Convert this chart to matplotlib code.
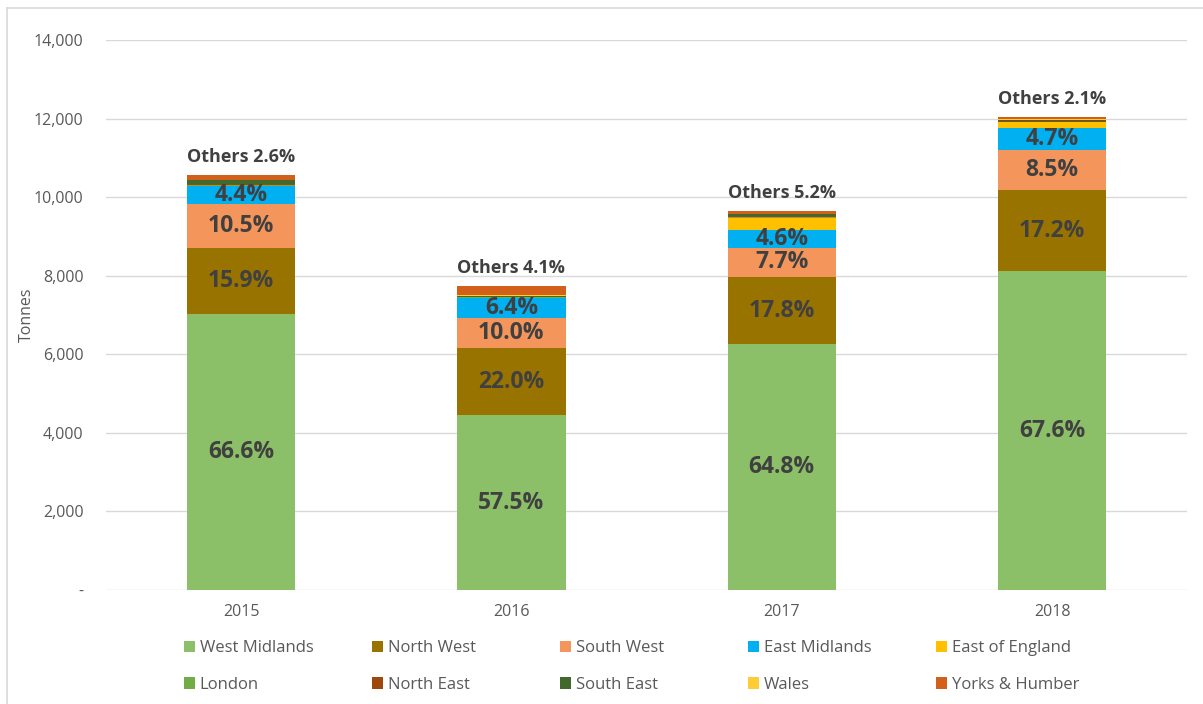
import matplotlib.pyplot as plt
import numpy as np
from matplotlib.lines import Line2D
from matplotlib.patches import Patch

years = ['2015', '2016', '2017', '2018']
totals = [10560, 7740, 9650, 12010]

regions = ['West Midlands', 'North West', 'South West', 'East Midlands', 'East of England',
           'London', 'North East', 'South East', 'Wales', 'Yorks & Humber']

# share of each year's total, in percent
west_midlands = [66.6, 57.5, 64.8, 67.6]
north_west = [15.9, 22.0, 17.8, 17.2]
south_west = [10.5, 10.0, 7.7, 8.5]
east_midlands = [4.4, 6.4, 4.6, 4.7]
east_of_england = [0.0, 0.3, 3.3, 1.2]
london = [0.2, 0.1, 0.1, 0.1]
north_east = [0.3, 0.2, 0.3, 0.2]
south_east = [0.9, 0.3, 0.6, 0.1]
wales = [0.0, 0.1, 0.1, 0.2]
yorks = [1.2, 3.1, 0.8, 0.5]

others_pct = ['2.6%', '4.1%', '5.2%', '2.1%']

colors = ['#8CC068', '#997300', '#F4965B', '#00B0F0', '#FFC000',
          '#70AD47', '#9E480E', '#43682B', '#FFCD33', '#D2601A']

shares = [west_midlands, north_west, south_west, east_midlands, east_of_england,
          london, north_east, south_east, wales, yorks]

plt.rcParams['font.family'] = ['Open Sans', 'DejaVu Sans']

fig = plt.figure(figsize=(12.03, 7.04), dpi=100)
ax = fig.add_axes([0.088, 0.162, 0.899, 0.781])

x = np.arange(len(years))
bottom = np.zeros(len(years))
for i, s in enumerate(shares):
    vals = np.array(s) / 100 * np.array(totals)
    ax.bar(x, vals, width=0.4, bottom=bottom, color=colors[i], label=regions[i])
    if i < 4:
        for j in range(len(years)):
            ax.text(x[j], bottom[j] + vals[j] / 2, '%.1f%%' % s[j], ha='center', va='center',
                    fontsize=16.5, fontweight='bold', color='#404040')
    bottom += vals

for j in range(len(years)):
    ax.text(x[j], bottom[j] + 230, 'Others ' + others_pct[j], ha='center', va='bottom',
            fontsize=13, fontweight='bold', color='#404040')

ax.set_xlim(-0.5, 3.5)
ax.set_ylim(0, 14000)
ticks = np.arange(0, 14001, 2000)
ax.set_yticks(ticks)
ax.set_yticklabels(['-'] + ['{:,}'.format(t) for t in ticks[1:]])
ax.set_xticks(x)
ax.set_xticklabels(years)
ax.tick_params(length=0, labelsize=11.5, colors='#595959', pad=10)
ax.tick_params(axis='y', pad=16)
ax.grid(axis='y', color='#D9D9D9', linewidth=1)
ax.set_axisbelow(True)
for sp in ax.spines.values():
    sp.set_visible(False)
ax.set_ylabel('Tonnes', fontsize=11.5, color='#595959')
ax.yaxis.set_label_coords(-0.066, 0.5)

# legend: five columns of two, evenly spaced like the original
handles = [Patch(facecolor=c, edgecolor='none') for c in colors]
for k in range(5):
    fig.legend([handles[k], handles[k + 5]], [regions[k], regions[k + 5]],
               loc='upper left', bbox_to_anchor=((184 + 188 * k) / 1203, 1 - 640 / 704),
               borderaxespad=0, borderpad=0, frameon=False, fontsize=12,
               handlelength=0.65, handleheight=0.65, handletextpad=0.3,
               labelspacing=1.25, labelcolor='#595959')

# chart frame (left and top edges)
fig.add_artist(Line2D([7 / 1203, 7 / 1203], [0, 1 - 8 / 704], color='#D9D9D9', linewidth=1.2))
fig.add_artist(Line2D([7 / 1203, 1], [1 - 8 / 704, 1 - 8 / 704], color='#D9D9D9', linewidth=1.2))

fig.savefig('out.png', dpi=100)
